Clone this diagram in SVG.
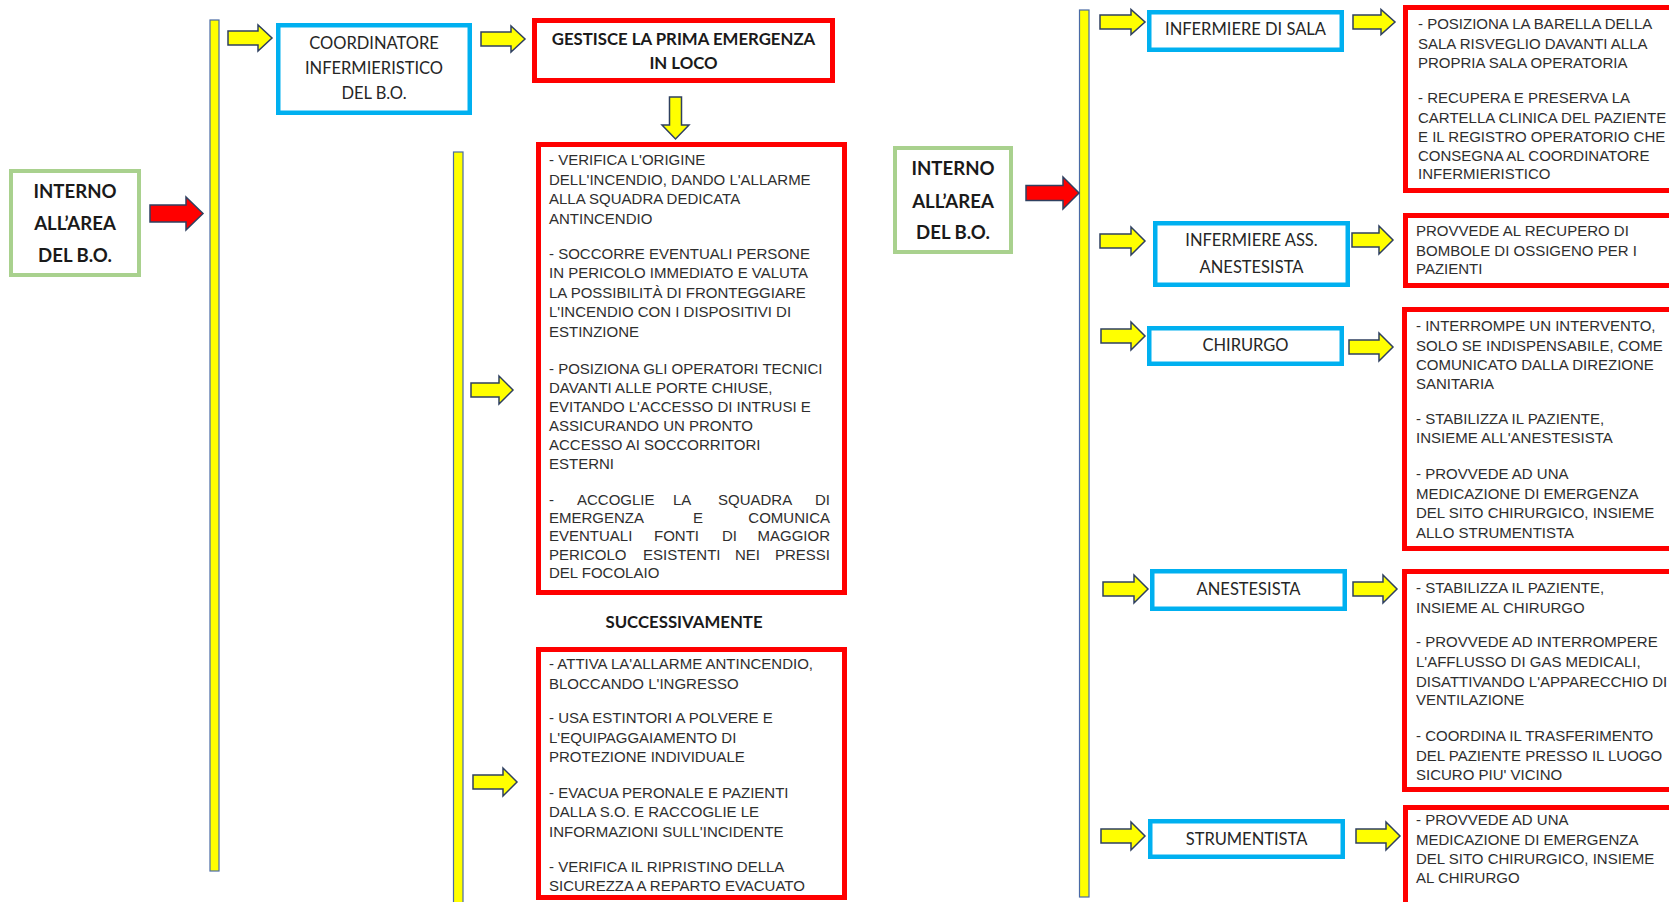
<svg xmlns="http://www.w3.org/2000/svg" width="1669" height="902" viewBox="0 0 1669 902">
<style>
.bg{fill:#ffffff}
.green{fill:#ffffff;stroke:#A9D18E;stroke-width:4}
.blue{fill:#ffffff;stroke:#00B0F0;stroke-width:4.5}
.red{fill:#ffffff;stroke:#FF0000;stroke-width:5}
.bar{fill:#FFFF00;stroke:#4A6AA5;stroke-width:1.2}
.ya{fill:#FFFF00;stroke:#2F4060;stroke-width:1.5;stroke-linejoin:miter}
.ra{fill:#FF0000;stroke:#2F4060;stroke-width:1.5}
.lbl{font-family:Lato,'Liberation Sans',sans-serif;font-size:16.5px;fill:#262626;text-anchor:middle}
.bld{font-family:Lato,'Liberation Sans',sans-serif;font-size:18.6px;font-weight:bold;fill:#1a1a1a;text-anchor:middle}
.bld2{font-family:Lato,'Liberation Sans',sans-serif;font-size:16.8px;font-weight:bold;fill:#1a1a1a;text-anchor:middle}
.body{font-family:'Liberation Sans',Arial,sans-serif;font-size:15px;fill:#2e2e2e}
.end{text-anchor:end}
</style>
<rect class="bg" x="0" y="0" width="1669" height="902"/>

<g id="connectors">
  <rect class="bar" x="210" y="20" width="9" height="851"/>
  <rect class="bar" x="453.5" y="152" width="9.5" height="760"/>
  <rect class="bar" x="1079.5" y="10" width="9.5" height="887"/>
  <path class="ra" d="M150 205 H186 V197 L203 213.5 L186 230 V222 H150 Z"/>
  <path class="ra" d="M1026 185.5 H1063 V177 L1079 193 L1063 209 V200.5 H1026 Z"/>
  <path class="ya" d="M228 31 H258 V25 L272 38 L258 51 V45 H228 Z"/>
  <path class="ya" d="M481 32 H511 V26 L525 39 L511 52 V46 H481 Z"/>
  <path class="ya" d="M669.5 97 H681.5 V125 H689 L675.5 139 L662 125 H669.5 Z"/>
  <path class="ya" d="M471 383 H499 V376 L513 390 L499 404 V397 H471 Z"/>
  <path class="ya" d="M473 775 H503 V768 L517 782 L503 796 V789 H473 Z"/>
  <path class="ya" d="M1100 15 H1131 V9.5 L1145 22 L1131 34.5 V29 H1100 Z"/>
  <path class="ya" d="M1353 15 H1381 V9.5 L1395 22 L1381 34.5 V29 H1353 Z"/>
  <path class="ya" d="M1100 234 H1131 V227 L1145 241 L1131 255 V248 H1100 Z"/>
  <path class="ya" d="M1352 233 H1379 V226 L1393 240 L1379 254 V247 H1352 Z"/>
  <path class="ya" d="M1101 329 H1131 V322 L1145 336 L1131 350 V343 H1101 Z"/>
  <path class="ya" d="M1349 340 H1379 V333 L1393 347 L1379 361 V354 H1349 Z"/>
  <path class="ya" d="M1103 582 H1134 V575 L1148 589 L1134 603 V596 H1103 Z"/>
  <path class="ya" d="M1353 582 H1383 V575 L1397 589 L1383 603 V596 H1353 Z"/>
  <path class="ya" d="M1101 829 H1131 V822 L1145 836 L1131 850 V843 H1101 Z"/>
  <path class="ya" d="M1356 829 H1386 V822 L1400 836 L1386 850 V843 H1356 Z"/>
</g>

<g id="interno-left">
  <rect class="green" x="11" y="171" width="128" height="104"/>
  <text class="bld" x="75" y="197.5">INTERNO</text>
  <text class="bld" x="75" y="229.5">ALL’AREA</text>
  <text class="bld" x="75" y="261.5">DEL B.O.</text>
</g>

<g id="coordinatore">
  <rect class="blue" x="278.25" y="25.25" width="191.5" height="87.5"/>
  <text class="lbl" x="374" y="49">COORDINATORE</text>
  <text class="lbl" x="374" y="74">INFERMIERISTICO</text>
  <text class="lbl" x="374" y="99">DEL B.O.</text>
</g>

<g id="gestisce">
  <rect class="red" x="534.5" y="20.5" width="298" height="60"/>
  <text class="bld2" x="683.5" y="45">GESTISCE LA PRIMA EMERGENZA</text>
  <text class="bld2" x="683.5" y="69">IN LOCO</text>
</g>

<g id="azioni-prime">
  <rect class="red" x="538.5" y="144.5" width="306" height="448"/>
  <text class="body" x="549" y="164.5">- VERIFICA L'ORIGINE</text>
  <text class="body" x="549" y="184.5">DELL'INCENDIO, DANDO L'ALLARME</text>
  <text class="body" x="549" y="204">ALLA SQUADRA DEDICATA</text>
  <text class="body" x="549" y="223.5">ANTINCENDIO</text>
  <text class="body" x="549" y="258.5">- SOCCORRE EVENTUALI PERSONE</text>
  <text class="body" x="549" y="278">IN PERICOLO IMMEDIATO E VALUTA</text>
  <text class="body" x="549" y="297.5">LA POSSIBILITÀ DI FRONTEGGIARE</text>
  <text class="body" x="549" y="317">L'INCENDIO CON I DISPOSITIVI DI</text>
  <text class="body" x="549" y="336.5">ESTINZIONE</text>
  <text class="body" x="549" y="373.5">- POSIZIONA GLI OPERATORI TECNICI</text>
  <text class="body" x="549" y="392.5">DAVANTI ALLE PORTE CHIUSE,</text>
  <text class="body" x="549" y="411.5">EVITANDO L'ACCESSO DI INTRUSI E</text>
  <text class="body" x="549" y="431">ASSICURANDO UN PRONTO</text>
  <text class="body" x="549" y="450">ACCESSO AI SOCCORRITORI</text>
  <text class="body" x="549" y="469">ESTERNI</text>
  <text class="body" x="549" y="504.5">-</text>
  <text class="body" x="577" y="504.5">ACCOGLIE</text>
  <text class="body" x="673" y="504.5">LA</text>
  <text class="body" x="718" y="504.5">SQUADRA</text>
  <text class="body end" x="830" y="504.5">DI</text>
  <text class="body" x="549" y="522.5">EMERGENZA</text>
  <text class="body" x="693" y="522.5">E</text>
  <text class="body end" x="830" y="522.5">COMUNICA</text>
  <text class="body" x="549" y="541">EVENTUALI</text>
  <text class="body" x="654" y="541">FONTI</text>
  <text class="body" x="722" y="541">DI</text>
  <text class="body end" x="830" y="541">MAGGIOR</text>
  <text class="body" x="549" y="559.5">PERICOLO</text>
  <text class="body" x="643" y="559.5">ESISTENTI</text>
  <text class="body" x="735" y="559.5">NEI</text>
  <text class="body end" x="830" y="559.5">PRESSI</text>
  <text class="body" x="549" y="577.5">DEL FOCOLAIO</text>
</g>

<g id="successivamente">
  <text class="bld2" x="684" y="628">SUCCESSIVAMENTE</text>
</g>

<g id="azioni-successive">
  <rect class="red" x="538.5" y="649.5" width="306" height="248"/>
  <text class="body" x="549" y="668.5">- ATTIVA LA'ALLARME ANTINCENDIO,</text>
  <text class="body" x="549" y="688.5">BLOCCANDO L'INGRESSO</text>
  <text class="body" x="549" y="722.5">- USA ESTINTORI A POLVERE E</text>
  <text class="body" x="549" y="742.5">L'EQUIPAGGAIAMENTO DI</text>
  <text class="body" x="549" y="761.5">PROTEZIONE INDIVIDUALE</text>
  <text class="body" x="549" y="797.5">- EVACUA PERONALE E PAZIENTI</text>
  <text class="body" x="549" y="816.5">DALLA S.O. E RACCOGLIE LE</text>
  <text class="body" x="549" y="836.5">INFORMAZIONI SULL'INCIDENTE</text>
  <text class="body" x="549" y="871.5">- VERIFICA IL RIPRISTINO DELLA</text>
  <text class="body" x="549" y="890.5">SICUREZZA A REPARTO EVACUATO</text>
</g>

<g id="interno-right">
  <rect class="green" x="895" y="148" width="116" height="104"/>
  <text class="bld" x="953" y="174.5">INTERNO</text>
  <text class="bld" x="953" y="207.5">ALL’AREA</text>
  <text class="bld" x="953" y="238.5">DEL B.O.</text>
</g>

<g id="infermiere-sala">
  <rect class="blue" x="1149.25" y="12.25" width="192.5" height="37.5"/>
  <text class="lbl" x="1245.5" y="35">INFERMIERE DI SALA</text>
</g>
<g id="compiti-infermiere-sala">
  <rect class="red" x="1405.5" y="7.5" width="300" height="183"/>
  <text class="body" x="1418" y="28.5">- POSIZIONA LA BARELLA DELLA</text>
  <text class="body" x="1418" y="48.5">SALA RISVEGLIO DAVANTI ALLA</text>
  <text class="body" x="1418" y="67.5">PROPRIA SALA OPERATORIA</text>
  <text class="body" x="1418" y="102.5">- RECUPERA E PRESERVA LA</text>
  <text class="body" x="1418" y="122.5">CARTELLA CLINICA DEL PAZIENTE</text>
  <text class="body" x="1418" y="141.5">E IL REGISTRO OPERATORIO CHE</text>
  <text class="body" x="1418" y="160.5">CONSEGNA AL COORDINATORE</text>
  <text class="body" x="1418" y="178.5">INFERMIERISTICO</text>
</g>

<g id="infermiere-anestesista">
  <rect class="blue" x="1155.25" y="223.25" width="192.5" height="61.5"/>
  <text class="lbl" x="1251.5" y="246">INFERMIERE ASS.</text>
  <text class="lbl" x="1251.5" y="273">ANESTESISTA</text>
</g>
<g id="compiti-infermiere-anestesista">
  <rect class="red" x="1405.5" y="215.5" width="300" height="70"/>
  <text class="body" x="1416" y="235.5">PROVVEDE AL RECUPERO DI</text>
  <text class="body" x="1416" y="255.5">BOMBOLE DI OSSIGENO PER I</text>
  <text class="body" x="1416" y="273.5">PAZIENTI</text>
</g>

<g id="chirurgo">
  <rect class="blue" x="1149.25" y="328.25" width="192.5" height="35.5"/>
  <text class="lbl" x="1245.5" y="351">CHIRURGO</text>
</g>
<g id="compiti-chirurgo">
  <rect class="red" x="1404.5" y="309.5" width="300" height="239"/>
  <text class="body" x="1416" y="330.5">- INTERROMPE UN INTERVENTO,</text>
  <text class="body" x="1416" y="350.5">SOLO SE INDISPENSABILE, COME</text>
  <text class="body" x="1416" y="369.5">COMUNICATO DALLA DIREZIONE</text>
  <text class="body" x="1416" y="388.5">SANITARIA</text>
  <text class="body" x="1416" y="423.5">- STABILIZZA IL PAZIENTE,</text>
  <text class="body" x="1416" y="442.5">INSIEME ALL'ANESTESISTA</text>
  <text class="body" x="1416" y="478.5">- PROVVEDE AD UNA</text>
  <text class="body" x="1416" y="498.5">MEDICAZIONE DI EMERGENZA</text>
  <text class="body" x="1416" y="517.5">DEL SITO CHIRURGICO, INSIEME</text>
  <text class="body" x="1416" y="537.5">ALLO STRUMENTISTA</text>
</g>

<g id="anestesista">
  <rect class="blue" x="1152.25" y="571.25" width="192.5" height="37.5"/>
  <text class="lbl" x="1248.5" y="595">ANESTESISTA</text>
</g>
<g id="compiti-anestesista">
  <rect class="red" x="1404.5" y="571.5" width="300" height="218"/>
  <text class="body" x="1416" y="592.5">- STABILIZZA IL PAZIENTE,</text>
  <text class="body" x="1416" y="612.5">INSIEME AL CHIRURGO</text>
  <text class="body" x="1416" y="646.5">- PROVVEDE AD INTERROMPERE</text>
  <text class="body" x="1416" y="666.5">L'AFFLUSSO DI GAS MEDICALI,</text>
  <text class="body" x="1416" y="686.5">DISATTIVANDO L'APPARECCHIO DI</text>
  <text class="body" x="1416" y="704.5">VENTILAZIONE</text>
  <text class="body" x="1416" y="740.5">- COORDINA IL TRASFERIMENTO</text>
  <text class="body" x="1416" y="760.5">DEL PAZIENTE PRESSO IL LUOGO</text>
  <text class="body" x="1416" y="779.5">SICURO PIU' VICINO</text>
</g>

<g id="strumentista">
  <rect class="blue" x="1150.25" y="821.25" width="192.5" height="35.5"/>
  <text class="lbl" x="1246.5" y="845">STRUMENTISTA</text>
</g>
<g id="compiti-strumentista">
  <rect class="red" x="1405.5" y="807.5" width="300" height="200"/>
  <text class="body" x="1416" y="824.5">- PROVVEDE AD UNA</text>
  <text class="body" x="1416" y="844.5">MEDICAZIONE DI EMERGENZA</text>
  <text class="body" x="1416" y="863.5">DEL SITO CHIRURGICO, INSIEME</text>
  <text class="body" x="1416" y="882.5">AL CHIRURGO</text>
</g>
</svg>
